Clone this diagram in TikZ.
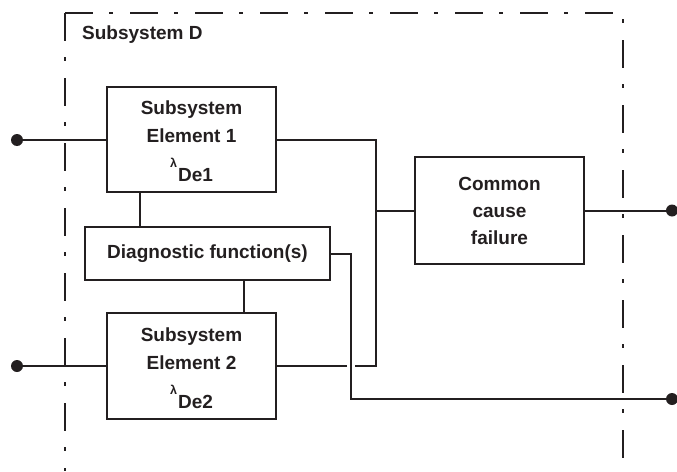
\documentclass[tikz,border=0pt]{standalone}
\usepackage{fontspec}
\setmainfont{Liberation Sans}
\definecolor{ink}{HTML}{231F20}
\newcommand{\lamsym}{{\fontsize{12.5}{12.5}\selectfont\raisebox{14pt}{λ}}\kern1pt}
\newcommand{\topstrut}{\rule{0pt}{18pt}}
\begin{document}
\begin{tikzpicture}[x=1pt,y=-1pt,
  box/.style={draw=ink, line width=2.2pt, inner sep=0pt, text=ink, align=center,
    font=\bfseries\fontsize{19}{28}\selectfont},
  conn/.style={draw=ink, line width=2pt},
  dotnode/.style={circle, fill=ink, inner sep=0pt, minimum size=12pt},
  frame/.style={draw=ink, line width=1.8pt, dash pattern=on 28pt off 16pt on 4pt off 17pt}]
\useasboundingbox (0,0) rectangle (677,471);
% dash-dot boundary
\draw[frame] (65,13) -- (65,471);
\draw[frame] (65,13) -- (623,13) -- (623,471);
\node[anchor=base west, text=ink, inner sep=0pt, font=\bfseries\fontsize{19}{22}\selectfont] (title) at (82,39) {Subsystem D};
% boxes
\node[box, minimum width=169pt, minimum height=105pt] (e1) at (191.5,139.5)
  {\topstrut Subsystem\\Element 1\\[11pt]\lamsym De1};
\node[box, minimum width=169pt, minimum height=106pt] (e2) at (191.5,366)
  {\topstrut Subsystem\\Element 2\\[11pt]\lamsym De2};
\node[box, minimum width=245pt, minimum height=53pt] (diag) at (207.5,253.5)
  {Diagnostic function(s)};
\node[box, minimum width=169pt, minimum height=107pt, font=\bfseries\fontsize{19}{27}\selectfont] (ccf) at (499.5,210.5)
  {Common\\cause\\failure};
% terminals
\node[dotnode] (dL1) at (17,140) {};
\node[dotnode] (dL2) at (17,366) {};
\node[dotnode] (dR1) at (672,210.5) {};
\node[dotnode] (dR2) at (672,399) {};
% helper coordinates
\coordinate (j1) at (376,140);
\coordinate (j2) at (376,366);
\coordinate (xa) at (140,0);
\coordinate (xb) at (244,0);
\coordinate (k1) at (351,253.5);
\coordinate (k2) at (351,399);
% connectors
\draw[conn] (dL1.center) -- (dL1 -| e1.west);
\draw[conn] (dL2.center) -- (dL2 -| e2.west);
\draw[conn] (e1.east |- j1) -- (j1) -- (j2) -- (355,366);
\draw[conn] (347,366) -- (e2.east |- j2);
\draw[conn] (j1 |- ccf.west) -- (ccf.west);
\draw[conn] (ccf.east) -- (dR1.center);
\draw[conn] (xa |- e1.south) -- (xa |- diag.north);
\draw[conn] (xb |- diag.south) -- (xb |- e2.north);
\draw[conn] (diag.east) -- (k1) -- (k2) -- (dR2.center);
\end{tikzpicture}
\end{document}
